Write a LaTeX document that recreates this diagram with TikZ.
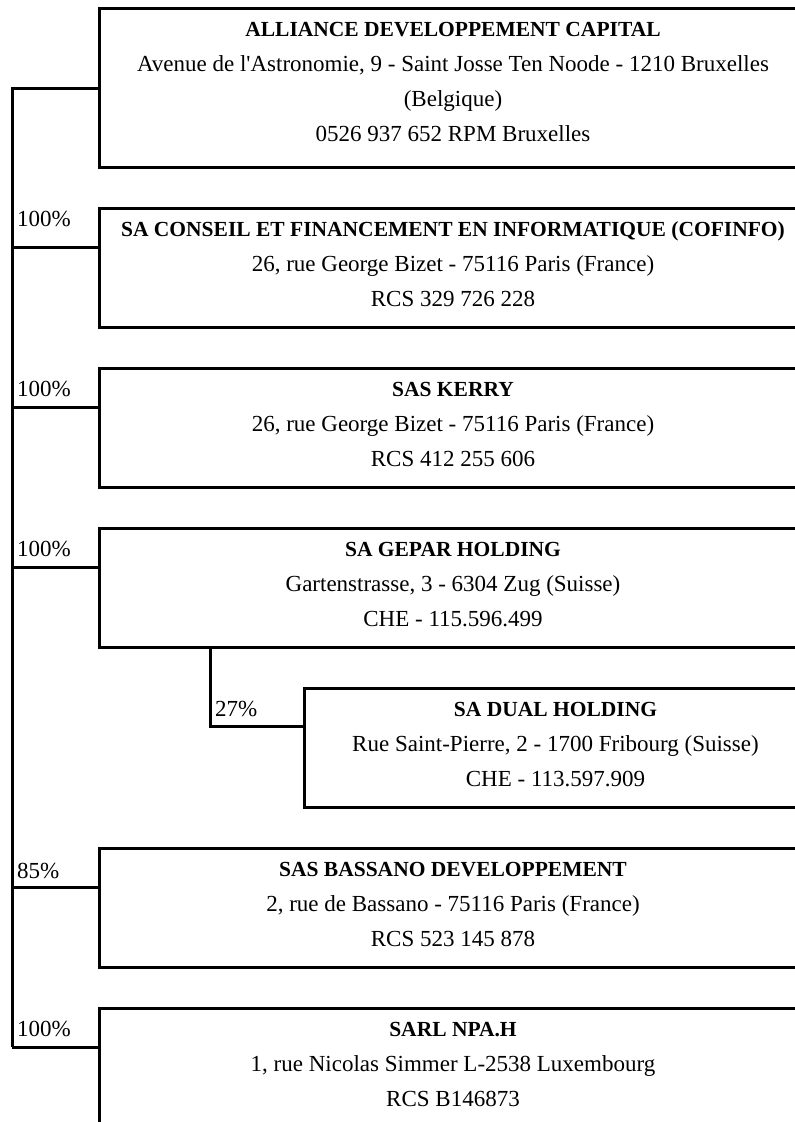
\documentclass[tikz,border=0pt]{standalone}
\usepackage{fontspec}
\setmainfont{Liberation Serif}
\usetikzlibrary{calc}
\newcommand{\OrgType}{\fontsize{23}{35}\selectfont}
\newcommand{\OrgName}[1]{{\fontsize{21.5}{35}\selectfont\bfseries #1}}
\tikzset{org/base/.style={x=1pt,y=-1pt,line cap=butt,line join=miter,
  every node/.style={font=\OrgType,inner sep=0pt,text=black}},
  org/entity/.style={draw=black,line width=3pt,minimum width=707pt,
    minimum height=119pt,align=center,anchor=north west,
    execute at end node={\rule[-8pt]{0pt}{0pt}}},
  org/link/.style={draw=black,line width=3pt},
  org/share/.style={anchor=base west}}

\begin{document}
\begin{tikzpicture}[org/base]
  \useasboundingbox (0,0) rectangle (795,1122);
  \clip (0,0) rectangle (795,1122);
  % Holding at the top, subsidiaries stacked beneath it.
  \node[org/entity,minimum height=159pt,
    execute at end node={\rule[-12pt]{0pt}{0pt}}] (alliance) at (98,7)
    {\OrgName{ALLIANCE DEVELOPPEMENT CAPITAL}\\
     Avenue de l\textquotesingle Astronomie, 9 - Saint Josse Ten Noode - 1210 Bruxelles\\
     (Belgique)\\0526 937 652 RPM Bruxelles};
  \node[org/entity] (cofinfo) at (98,207)
    {\OrgName{SA CONSEIL ET FINANCEMENT EN INFORMATIQUE (COFINFO)}\\
     26, rue George Bizet - 75116 Paris (France)\\RCS 329 726 228};
  \node[org/entity] (kerry) at (98,367)
    {\OrgName{SAS KERRY}\\
     26, rue George Bizet - 75116 Paris (France)\\RCS 412 255 606};
  \node[org/entity] (gepar) at (98,527)
    {\OrgName{SA GEPAR HOLDING}\\
     Gartenstrasse, 3 - 6304 Zug (Suisse)\\CHE - 115.596.499};
  \node[org/entity,minimum width=502pt] (dual) at (303,687)
    {\OrgName{SA DUAL HOLDING}\\
     Rue Saint-Pierre, 2 - 1700 Fribourg (Suisse)\\CHE - 113.597.909};
  \node[org/entity] (bassano) at (98,847)
    {\OrgName{SAS BASSANO DEVELOPPEMENT}\\
     2, rue de Bassano - 75116 Paris (France)\\RCS 523 145 878};
  \node[org/entity] (npah) at (98,1007)
    {\OrgName{SARL NPA.H}\\
     1, rue Nicolas Simmer L-2538 Luxembourg\\RCS B146873};
  % Trunk on the left, one branch per direct holding.
  \coordinate (trunkTop) at ([xshift=-86pt]alliance.west);
  \foreach \n/\p/\s in {cofinfo/100/21,kerry/100/11,gepar/100/11,bassano/85/9,npah/100/11}{
    \coordinate (\n-in) at ($(\n.north west)+(0,40)$);
    \draw[org/link] (trunkTop |- \n-in) -- (\n-in);
    \node[org/share] (\n-pct) at ($(trunkTop |- \n-in)+(5,-\s)$) {\p\%};}
  \draw[org/link] (alliance.west) -- (trunkTop) -- (trunkTop |- npah-in);
  % Indirect holding through GEPAR.
  \coordinate (gepar-out) at ($(gepar.south west)+(112,0)$);
  \coordinate (dual-in) at ($(dual.north west)+(0,39)$);
  \draw[org/link] (gepar-out) |- (dual-in);
  \node[org/share] (dual-pct) at ($(gepar-out |- dual-in)+(5,-10)$) {27\%};
\end{tikzpicture}
\end{document}
